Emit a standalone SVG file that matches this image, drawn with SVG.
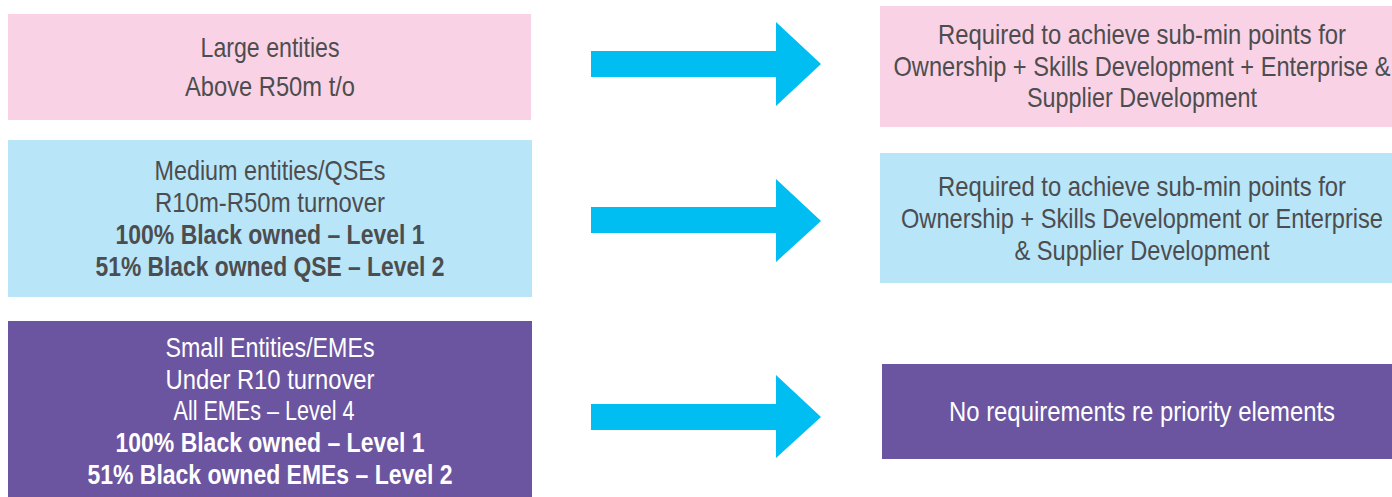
<svg xmlns="http://www.w3.org/2000/svg" width="1392" height="497" viewBox="0 0 1392 497">
<style>
.t{font-family:"Liberation Sans Narrow","Arial Narrow","Liberation Sans",Arial,sans-serif;font-size:28px;text-anchor:middle;fill:#4d4d4f}
.w{fill:#ffffff}
.b{font-weight:bold}
.pink{fill:#f9d3e5}
.blue{fill:#b8e5f8}
.purple{fill:#6c55a0}
.arrow{fill:#00bdf2}
</style>
<rect width="1392" height="497" fill="#ffffff"/>
<g id="large">
<rect class="pink" x="8" y="14" width="523" height="106"/>
<text class="t" x="270" y="57" textLength="139" lengthAdjust="spacingAndGlyphs">Large entities</text>
<text class="t" x="270" y="96" textLength="170" lengthAdjust="spacingAndGlyphs">Above R50m t/o</text>
</g>
<g id="medium">
<rect class="blue" x="8" y="140" width="524" height="157"/>
<text class="t" x="270" y="180" textLength="231" lengthAdjust="spacingAndGlyphs">Medium entities/QSEs</text>
<text class="t" x="270" y="212" textLength="230" lengthAdjust="spacingAndGlyphs">R10m-R50m turnover</text>
<text class="t b" x="270" y="244" textLength="309" lengthAdjust="spacingAndGlyphs">100% Black owned – Level 1</text>
<text class="t b" x="270" y="276" textLength="349" lengthAdjust="spacingAndGlyphs">51% Black owned QSE – Level 2</text>
</g>
<g id="small">
<rect class="purple" x="8" y="321" width="524" height="176"/>
<text class="t w" x="270" y="357" textLength="209" lengthAdjust="spacingAndGlyphs">Small Entities/EMEs</text>
<text class="t w" x="270" y="389" textLength="209" lengthAdjust="spacingAndGlyphs">Under R10 turnover</text>
<text class="t w" x="264" y="420" textLength="181" lengthAdjust="spacingAndGlyphs">All EMEs – Level 4</text>
<text class="t w b" x="270" y="452" textLength="309" lengthAdjust="spacingAndGlyphs">100% Black owned – Level 1</text>
<text class="t w b" x="270" y="484" textLength="365" lengthAdjust="spacingAndGlyphs">51% Black owned EMEs – Level 2</text>
</g>
<g id="req-large">
<rect class="pink" x="880" y="6" width="524" height="121"/>
<text class="t" x="1142" y="44" textLength="408" lengthAdjust="spacingAndGlyphs">Required to achieve sub-min points for</text>
<text class="t" x="1142" y="76" textLength="497" lengthAdjust="spacingAndGlyphs">Ownership + Skills Development + Enterprise &amp;</text>
<text class="t" x="1142" y="107" textLength="230" lengthAdjust="spacingAndGlyphs">Supplier Development</text>
</g>
<g id="req-medium">
<rect class="blue" x="880" y="153" width="524" height="130"/>
<text class="t" x="1142" y="196" textLength="408" lengthAdjust="spacingAndGlyphs">Required to achieve sub-min points for</text>
<text class="t" x="1142" y="228" textLength="482" lengthAdjust="spacingAndGlyphs">Ownership + Skills Development or Enterprise</text>
<text class="t" x="1142" y="260" textLength="255" lengthAdjust="spacingAndGlyphs">&amp; Supplier Development</text>
</g>
<g id="req-small">
<rect class="purple" x="882" y="364" width="522" height="95"/>
<text class="t w" x="1142" y="421" textLength="386" lengthAdjust="spacingAndGlyphs">No requirements re priority elements</text>
</g>
<g id="connectors">
<polygon class="arrow" points="591,51 776,51 776,22 821,64 776,106 776,77 591,77"/>
<polygon class="arrow" points="591,207 776,207 776,179 821,221 776,262 776,233 591,233"/>
<polygon class="arrow" points="591,404 776,404 776,375 821,417 776,458 776,430 591,430"/>
</g>
</svg>
